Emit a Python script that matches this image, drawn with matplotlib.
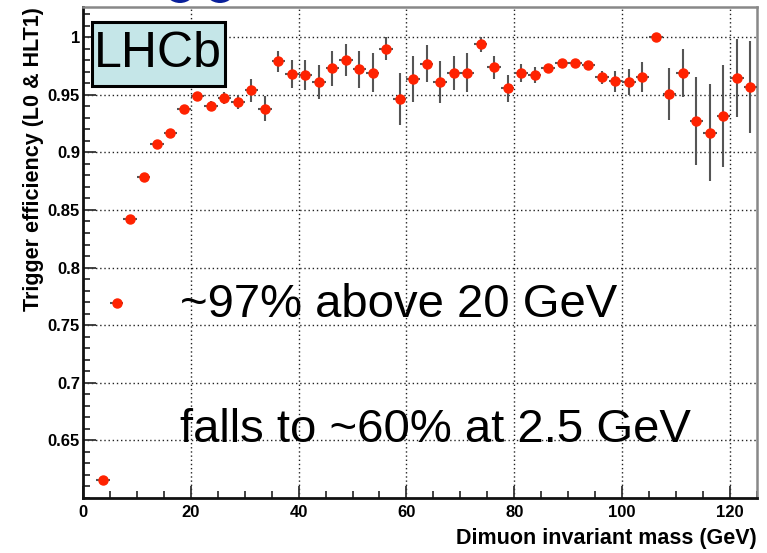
import numpy as np
import matplotlib
matplotlib.use("Agg")
import matplotlib.pyplot as plt
from matplotlib.patches import Rectangle, Ellipse
from matplotlib.ticker import MultipleLocator

# --- data (2.5 GeV bins) ---
mass = np.arange(3.75, 125.0, 2.5)
eff = [0.616, 0.769, 0.842, 0.879, 0.907, 0.917, 0.938, 0.949, 0.9405, 0.947,
       0.944, 0.954, 0.938, 0.979, 0.968, 0.967, 0.961, 0.973, 0.980, 0.972,
       0.969, 0.990, 0.946, 0.964, 0.977, 0.961, 0.969, 0.969, 0.994, 0.974,
       0.9555, 0.969, 0.967, 0.973, 0.9775, 0.9775, 0.976, 0.965, 0.9615, 0.961,
       0.965, 1.000, 0.951, 0.969, 0.927, 0.917, 0.9315, 0.9645, 0.957]
eff_err = [0.001, 0.002, 0.002, 0.002, 0.002, 0.002, 0.003, 0.003, 0.004, 0.005,
           0.006, 0.010, 0.011, 0.009, 0.012, 0.013, 0.015, 0.015, 0.014, 0.016,
           0.017, 0.010, 0.0225, 0.020, 0.016, 0.0185, 0.015, 0.017, 0.0065, 0.010,
           0.012, 0.008, 0.007, 0.003, 0.002, 0.002, 0.003, 0.006, 0.009, 0.011,
           0.013, 0.000, 0.0225, 0.021, 0.038, 0.042, 0.044, 0.034, 0.040]
bin_half = 1.25
ytick_vals = [0.65, 0.7, 0.75, 0.8, 0.85, 0.9, 0.95, 1.0]
ytick_labels = ["0.65", "0.7", "0.75", "0.8", "0.85", "0.9", "0.95", "1"]

plt.rcParams['font.family'] = ['Liberation Sans', 'DejaVu Sans']

fig = plt.figure(figsize=(7.67, 5.53), dpi=100)
ax = fig.add_axes([0.108, 0.0995, 0.879, 0.8875])

ax.errorbar(mass, eff, yerr=eff_err, xerr=bin_half, fmt="o",
            color="#ff2200", ms=6.5, mec="#ff2200",
            ecolor="#555555", elinewidth=1.5, capsize=0, zorder=3)

ax.set_xlim(0, 125)
ax.set_ylim(0.6, 1.026)
ax.xaxis.set_major_locator(MultipleLocator(20))
ax.xaxis.set_minor_locator(MultipleLocator(5))
ax.set_yticks(ytick_vals)
ax.set_yticklabels(ytick_labels)
ax.yaxis.set_minor_locator(MultipleLocator(0.01))

ax.tick_params(which="both", direction="in", top=False, right=False,
               labelsize=12, width=1.3, color="#333333")
ax.tick_params(axis="y", pad=2)
ax.tick_params(axis="x", pad=5)
ax.tick_params(which="major", length=9)
ax.tick_params(which="minor", length=5)
for lab in ax.get_xticklabels() + ax.get_yticklabels():
    lab.set_fontweight("bold")

ax.grid(True, which="major", linestyle=(0, (1, 2)), color="#222222", lw=1.0)

for side in ["left", "bottom"]:
    ax.spines[side].set_linewidth(2)
    ax.spines[side].set_color("#111111")
for side in ["top", "right"]:
    ax.spines[side].set_linewidth(1.8)
    ax.spines[side].set_color("#888888")

ax.set_xlabel("Dimuon invariant mass (GeV)", fontsize=15.5, fontweight="bold",
              loc="right", labelpad=6)
ax.set_ylabel("Trigger efficiency (L0 & HLT1)", fontsize=15.5, fontweight="bold",
              loc="top", labelpad=3)

# LHCb box
fig.patches.append(Rectangle((92 / 767, 1 - 86 / 553), 133 / 767, 64 / 553,
                             transform=fig.transFigure, facecolor="#c5e6e8",
                             edgecolor="black", lw=2.2, zorder=5))
fig.text(158 / 767, 1 - 54 / 553, "LHCb", fontsize=36, ha="center",
         va="center", zorder=6)

# annotations
fig.text(180 / 767, 1 - 317 / 553, "~97% above 20 GeV", fontsize=34,
         ha="left", va="baseline")
fig.text(180 / 767, 1 - 442 / 553, "falls to ~60% at 2.5 GeV", fontsize=34,
         ha="left", va="baseline")

# cut-off title glyphs at the top edge
for cx in (180, 220):
    fig.patches.append(Ellipse((cx / 767, 1 + 12 / 553), 32 / 767, 30 / 553,
                               transform=fig.transFigure,
                               facecolor="#0a1f9a", edgecolor="none"))

fig.savefig("out.png", dpi=100)
